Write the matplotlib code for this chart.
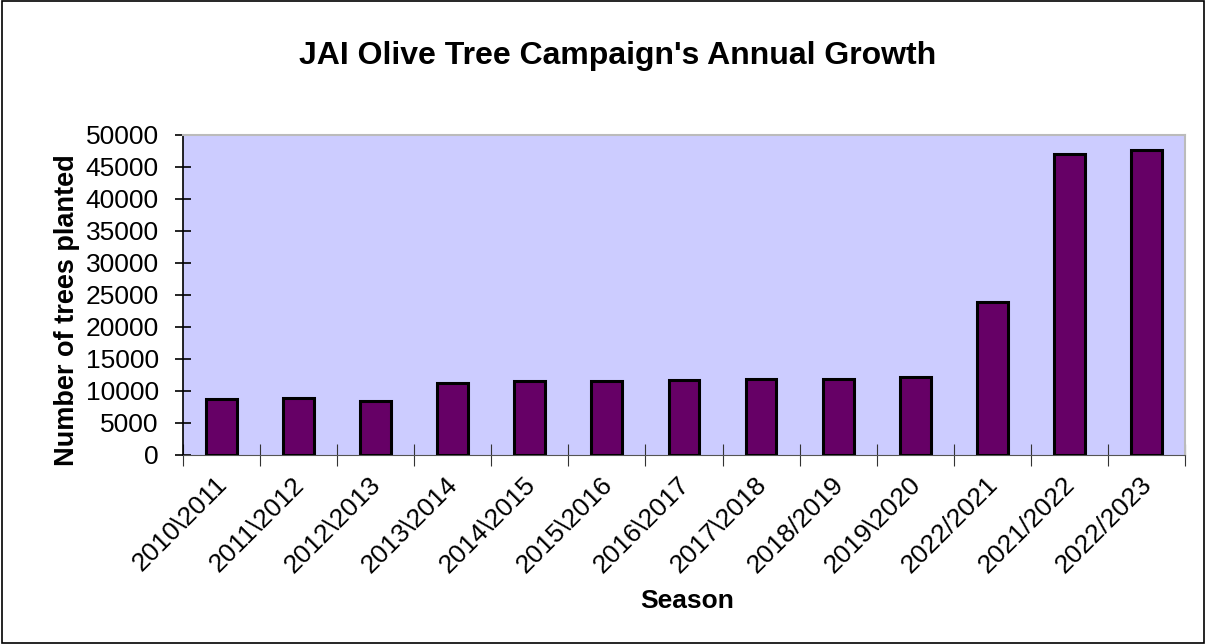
import matplotlib.pyplot as plt
import matplotlib.transforms as mtransforms
from matplotlib.patches import Rectangle

plt.rcParams['font.family'] = ['Liberation Sans', 'DejaVu Sans']

seasons = ['2010\\2011', '2011\\2012', '2012\\2013', '2013\\2014', '2014\\2015',
           '2015\\2016', '2016\\2017', '2017\\2018', '2018/2019', '2019\\2020',
           '2022/2021', '2021/2022', '2022/2023']
trees = [8690, 8890, 8470, 11200, 11610, 11520, 11720, 11920, 11920, 12140,
         23960, 47070, 47650]

fig = plt.figure(figsize=(12.06, 6.44), dpi=100)
ax = fig.add_axes([0.1517, 0.2935, 0.8309, 0.4969])

# outer frame
fig.patches.append(Rectangle((0.002, 0.002), 0.996, 0.996, transform=fig.transFigure,
                             fill=False, edgecolor='black', linewidth=1.2))

x = range(len(seasons))
ax.bar(x, trees, width=0.4, color='#660066', edgecolor='black', linewidth=2.2, zorder=3)

ax.set_facecolor('#ccccff')
ax.set_xlim(-0.5, len(seasons) - 0.5)
ax.set_ylim(0, 50000)
ax.set_yticks(range(0, 50001, 5000))
ax.tick_params(axis='y', labelsize=19, direction='inout', length=11, width=1.2, pad=12)

# ticks between categories, labels at category centres
ax.set_xticks([i + 0.5 for i in range(-1, len(seasons))])
ax.set_xticklabels([])
ax.set_xticks(list(x), minor=True)
ax.set_xticklabels(seasons, minor=True, rotation=45, ha='right', va='top',
                   rotation_mode='anchor', fontsize=19)
ax.tick_params(axis='x', which='major', direction='inout', length=16, width=0.8, color='#333333')
ax.tick_params(axis='x', which='minor', length=0, pad=12.5)
shift = mtransforms.ScaledTranslation(-0.07, 0, fig.dpi_scale_trans)
for lbl in ax.get_xticklabels(minor=True):
    lbl.set_transform(lbl.get_transform() + shift)

for s in ['top', 'right']:
    ax.spines[s].set_color('#bbbbbb')
    ax.spines[s].set_linewidth(1.5)
ax.spines['left'].set_color('black')
ax.spines['bottom'].set_color('#555555')
ax.spines['left'].set_linewidth(1.2)

ax.set_ylabel('Number of trees planted', fontsize=19.5, fontweight='bold')
ax.yaxis.set_label_coords(-0.103, 0.453)
ax.set_xlabel('Season', fontsize=19, fontweight='bold')
ax.xaxis.set_label_coords(0.503, -0.42)
fig.text(0.512, 0.913, "JAI Olive Tree Campaign's Annual Growth", ha='center', va='center',
         fontsize=23, fontweight='bold')

fig.savefig('out.png', dpi=100)
